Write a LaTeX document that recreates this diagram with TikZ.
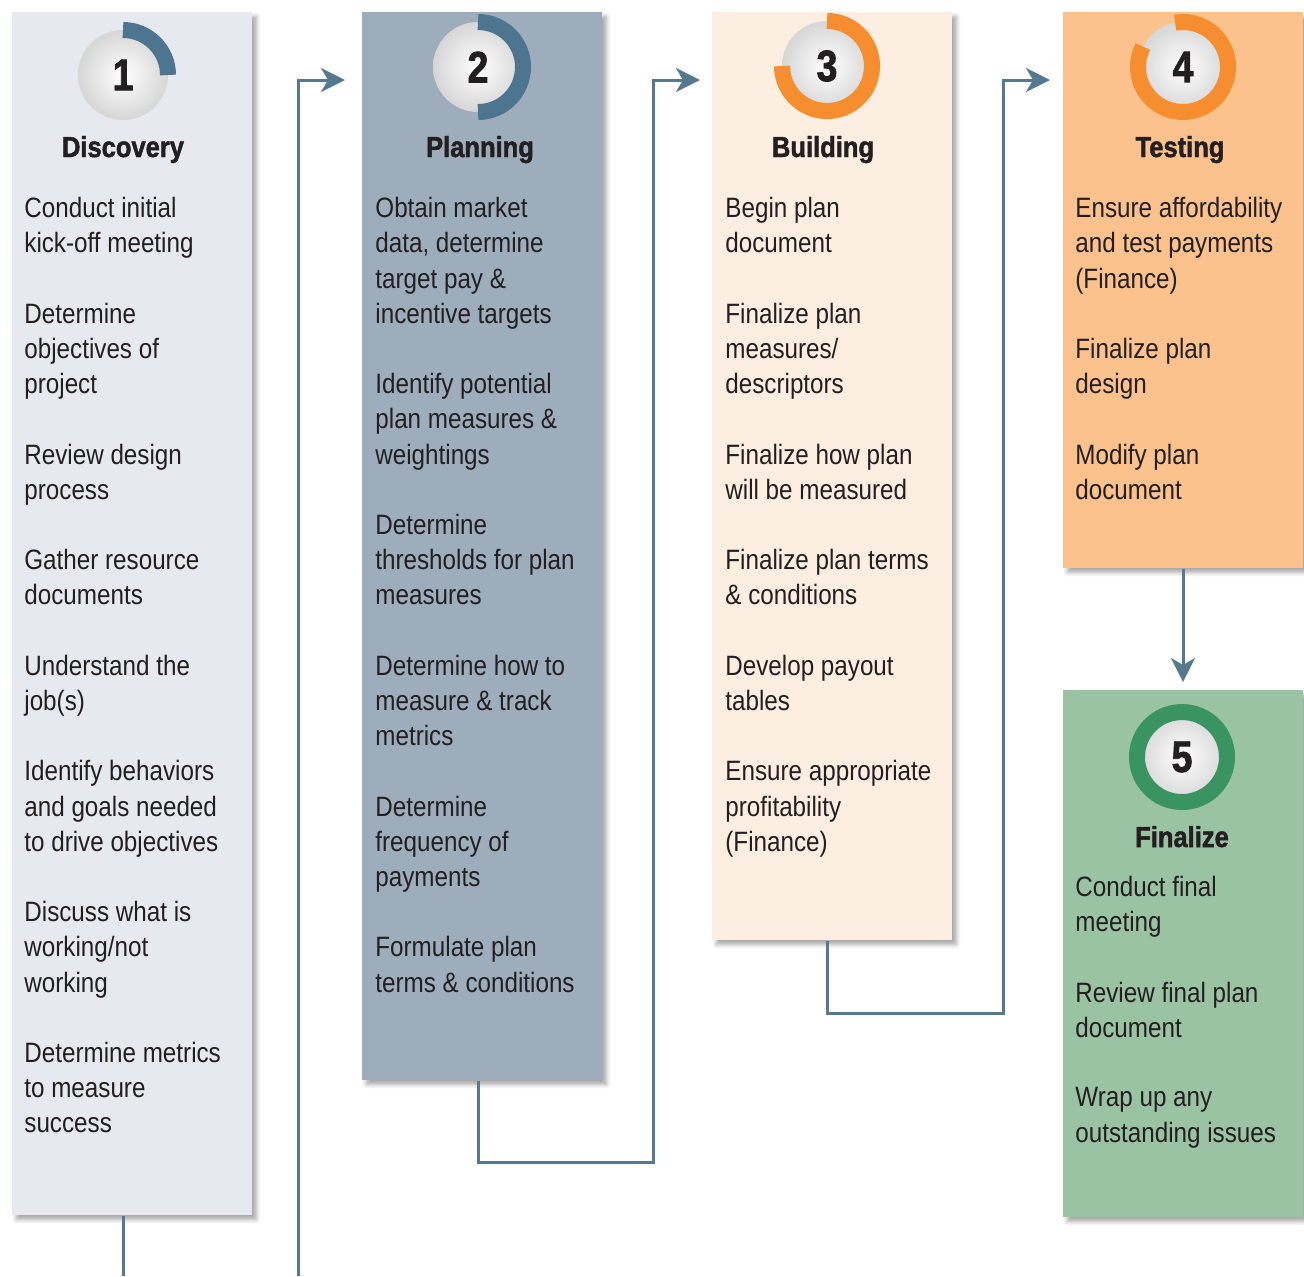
\documentclass[tikz,border=0pt]{standalone}
\usepackage{fontspec}
\setmainfont[FakeStretch=0.865]{Liberation Sans}
\newfontfamily\headfont[FakeStretch=0.88,FakeBold=1.6]{Liberation Sans Bold}
\newfontfamily\numfont[FakeStretch=0.85,FakeBold=1.8]{Liberation Sans Bold}
\usetikzlibrary{arrows.meta,shadows.blur}

\definecolor{ink}{HTML}{231F20}
\definecolor{discfill}{HTML}{E6E9EF}
\definecolor{planfill}{HTML}{9DADBC}
\definecolor{buildfill}{HTML}{FDEEE2}
\definecolor{testfill}{HTML}{FBC28E}
\definecolor{finalfill}{HTML}{9AC3A4}
\definecolor{ringblue}{HTML}{4E7590}
\definecolor{ringorange}{HTML}{F68D2E}
\definecolor{ringgreen}{HTML}{3A9462}
\definecolor{linkblue}{HTML}{56798F}

\tikzset{
  panel/.style={anchor=north west, inner sep=0pt, minimum width=120pt,
    blur shadow={shadow xshift=2pt, shadow yshift=-2pt, shadow blur steps=6, shadow opacity=35}},
  sphere/.style={circle, minimum size=45pt, inner sep=0pt, inner color=white, outer color=black!16,
    text=ink, font=\numfont\fontsize{22}{22}\selectfont},
  ring/.style={line width=8pt},
  title/.style={anchor=base, inner sep=0pt, text=ink, font=\headfont\fontsize{14.5}{17}\selectfont},
  item/.style={anchor=north west, inner sep=0pt, align=left, text=ink, font=\fontsize{14}{17.6}\selectfont},
  link/.style={draw=linkblue, line width=1.5pt},
  flow/.style={link, -{Stealth[length=12pt,width=12pt,inset=3.5pt]}},
}

\begin{document}
\begin{tikzpicture}[x=0.5pt,y=-0.5pt]
\useasboundingbox (0,0) rectangle (1304,1276);

% columns
\node [panel, fill=discfill, minimum height=601.5pt]  (panel1) at  (12,12) {};
\node [panel, fill=planfill, minimum height=534pt]    (panel2) at  (362,12) {};
\node [panel, fill=buildfill, minimum height=464pt]   (panel3) at  (712,12) {};
\node [panel, fill=testfill, minimum height=278pt]    (panel4) at  (1063,12) {};
\node [panel, fill=finalfill, minimum height=263.5pt] (panel5) at  (1063,690) {};

% connectors
\draw [flow, shorten >=8.5pt] (298,1276) |- (panel2.west |- 0,80);
\draw [link] (panel1.south -| 123,0) -- (123,1276);
\draw [flow, shorten >=6pt] (panel2.south -| 478,0) |- (653,1162) |- (panel3.west |- 0,80);
\draw [flow, shorten >=6.5pt] (panel3.south -| 827,0) |- (1003,1013) |- (panel4.west |- 0,80);
\draw [flow, shorten >=4pt] (panel4.south -| 1183,0) -- (panel5.north -| 1183,0);

% badges
\node [sphere] (badge1) at  (123,75) {1};
\node [sphere] (badge2) at  (478,67) {2};
\node [sphere] (badge3) at  (827,66) {3};
\node [sphere] (badge4) at  (1183,67) {4};
\node [sphere] (badge5) at  (1182,757) {5};

\draw [ring, ringblue] (badge1.center) ++(-90:45) arc [start angle=-90, end angle=0, radius=45];
\draw [ring, ringblue] (badge2.center) ++(-90:45) arc [start angle=-90, end angle=90, radius=45];
\draw [ring, ringorange] (badge3.center) ++(-90:45) arc [start angle=-90, end angle=180, radius=45];
\draw [ring, ringorange] (badge4.center) ++(-100:45) arc [start angle=-100, end angle=207, radius=45];
\draw [ring, ringgreen] (badge5.center) circle [radius=45];

\node [title] (title1) at  (123,157) {Discovery};
\node [title] (title2) at  (480,157) {Planning};
\node [title] (title3) at  (823,157) {Building};
\node [title] (title4) at  (1180,157) {Testing};
\node [title] (title5) at  (1182,847) {Finalize};

% discovery
\node [item] (d1) at  (24,197) {Conduct initial\\kick-off meeting};
\node [item] (d2) at  (24,302.6) {Determine\\objectives of\\project};
\node [item] (d3) at  (24,443.4) {Review design\\process};
\node [item] (d4) at  (24,549) {Gather resource\\documents};
\node [item] (d5) at  (24,654.6) {Understand the\\job(s)};
\node [item] (d6) at  (24,760.2) {Identify behaviors\\and goals needed\\to drive objectives};
\node [item] (d7) at  (24,901) {Discuss what is\\working/not\\working};
\node [item] (d8) at  (24,1041.8) {Determine metrics\\to measure\\success};

% planning
\node [item] (p1) at  (375,197) {Obtain market\\data, determine\\target pay \&\\incentive targets};
\node [item] (p2) at  (375,373) {Identify potential\\plan measures \&\\weightings};
\node [item] (p3) at  (375,513.8) {Determine\\thresholds for plan\\measures};
\node [item] (p4) at  (375,654.6) {Determine how to\\measure \& track\\metrics};
\node [item] (p5) at  (375,795.4) {Determine\\frequency of\\payments};
\node [item] (p6) at  (375,936.2) {Formulate plan\\terms \& conditions};

% building
\node [item] (b1) at  (725,197) {Begin plan\\document};
\node [item] (b2) at  (725,302.6) {Finalize plan\\measures/\\descriptors};
\node [item] (b3) at  (725,443.4) {Finalize how plan\\will be measured};
\node [item] (b4) at  (725,549) {Finalize plan terms\\\& conditions};
\node [item] (b5) at  (725,654.6) {Develop payout\\tables};
\node [item] (b6) at  (725,760.2) {Ensure appropriate\\profitability\\(Finance)};

% testing
\node [item] (t1) at  (1075,197) {Ensure affordability\\and test payments\\(Finance)};
\node [item] (t2) at  (1075,337.8) {Finalize plan\\design};
\node [item] (t3) at  (1075,443.4) {Modify plan\\document};

% finalize
\node [item] (f1) at  (1075,876) {Conduct final\\meeting};
\node [item] (f2) at  (1075,981.6) {Review final plan\\document};
\node [item] (f3) at  (1075,1087.2) {Wrap up any\\outstanding issues};

\end{tikzpicture}
\end{document}
